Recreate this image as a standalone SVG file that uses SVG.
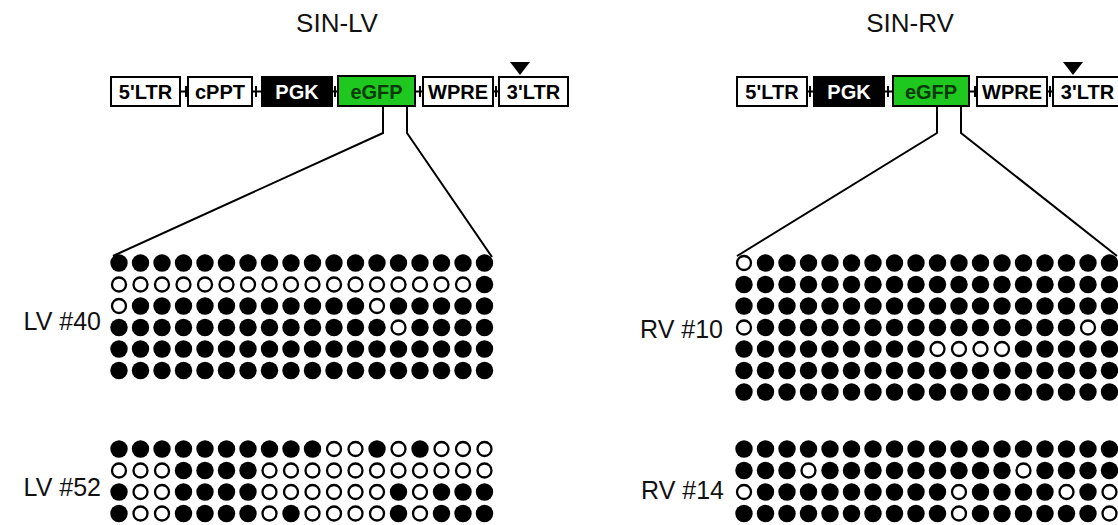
<svg xmlns="http://www.w3.org/2000/svg" xmlns:xlink="http://www.w3.org/1999/xlink" width="1118" height="525" viewBox="0 0 1118 525">
<style>
.title{font-family:"Liberation Sans",Arial,sans-serif;font-size:26px;fill:#111;text-anchor:middle}
.lab{font-family:"Liberation Sans",Arial,sans-serif;font-size:25px;fill:#111;text-anchor:end}
.box{fill:#fff;stroke:#000;stroke-width:2}
.blk{fill:#000;stroke:#000;stroke-width:2}
.grn{fill:#1fc81f;stroke:#000;stroke-width:2}
.bt{font-family:"Liberation Sans",Arial,sans-serif;font-size:20px;font-weight:bold;fill:#000;text-anchor:middle}
.wt{fill:#fff}
.gt{fill:#073a07}
.ln{fill:none;stroke:#000;stroke-width:2}
.tri{fill:#000}
</style>
<defs>
<circle id="f" r="8.7" fill="#000"/>
<circle id="o" r="7" fill="#fff" stroke="#000" stroke-width="2.3"/>
<g id="rowF">
<use href="#f" x="0"/><use href="#f" x="21.5"/><use href="#f" x="43"/><use href="#f" x="64.5"/><use href="#f" x="86"/><use href="#f" x="107.5"/><use href="#f" x="129"/><use href="#f" x="150.5"/><use href="#f" x="172"/><use href="#f" x="193.5"/><use href="#f" x="215"/><use href="#f" x="236.5"/><use href="#f" x="258"/><use href="#f" x="279.5"/><use href="#f" x="301"/><use href="#f" x="322.5"/><use href="#f" x="344"/><use href="#f" x="365.5"/>
</g>
</defs>
<rect width="1118" height="525" fill="#fff"/>

<text class="title" x="337" y="32">SIN-LV</text>
<text class="title" x="910" y="32">SIN-RV</text>

<!-- LV construct -->
<g id="lv-construct">
<g id="lv-junctions" class="ln">
<path d="M180 91.5H188M186 86V97"/>
<path d="M252 91.5H262M256 86V97"/>
<path d="M332 91.5H338M335 86V97"/>
<path d="M415 91.5H423M420 86V97"/>
<path d="M493 91.5H499M496 86V97"/>
</g>
<g id="lv-5ltr"><rect class="box" x="111" y="77" width="69" height="29"/><text class="bt" x="145.5" y="98.5">5'LTR</text></g>
<g id="lv-cppt"><rect class="box" x="188" y="77" width="64" height="29"/><text class="bt" x="220" y="98.5">cPPT</text></g>
<g id="lv-pgk"><rect class="blk" x="262" y="77" width="70" height="29"/><text class="bt wt" x="297" y="98.5">PGK</text></g>
<g id="lv-egfp"><rect class="grn" x="338" y="76" width="77" height="30"/><text class="bt gt" x="376.5" y="98.5">eGFP</text></g>
<g id="lv-wpre"><rect class="box" x="423" y="77" width="70" height="29"/><text class="bt" x="458" y="98.5">WPRE</text></g>
<g id="lv-3ltr"><rect class="box" x="499" y="77" width="69" height="29"/><text class="bt" x="533.5" y="98.5">3'LTR</text></g>
<path class="tri" d="M510 62H530L520 75Z"/>
</g>

<!-- RV construct -->
<g id="rv-construct">
<g id="rv-junctions" class="ln">
<path d="M807 91.5H814M810 86V97"/>
<path d="M884 91.5H893M888 86V97"/>
<path d="M969 91.5H977M975 86V97"/>
<path d="M1047 91.5H1053M1050 86V97"/>
</g>
<g id="rv-5ltr"><rect class="box" x="737" y="77" width="70" height="29"/><text class="bt" x="772" y="98.5">5'LTR</text></g>
<g id="rv-pgk"><rect class="blk" x="814" y="77" width="70" height="29"/><text class="bt wt" x="849" y="98.5">PGK</text></g>
<g id="rv-egfp"><rect class="grn" x="893" y="76" width="76" height="30"/><text class="bt gt" x="931" y="98.5">eGFP</text></g>
<g id="rv-wpre"><rect class="box" x="977" y="77" width="70" height="29"/><text class="bt" x="1012" y="98.5">WPRE</text></g>
<g id="rv-3ltr"><rect class="box" x="1053" y="77" width="69" height="29"/><text class="bt" x="1087.5" y="98.5">3'LTR</text></g>
<path class="tri" d="M1063 62H1083L1073 75Z"/>
</g>

<!-- connectors (zoom lines) -->
<g id="connectors" class="ln">
<path d="M383 106V133L113 256"/>
<path d="M407 106V133L492 257"/>
<path d="M937 106V133L737 256"/>
<path d="M961 106V133L1117 256"/>
</g>

<!-- labels -->
<text class="lab" x="101" y="330">LV #40</text>
<text class="lab" x="101" y="496">LV #52</text>
<text class="lab" x="723" y="338">RV #10</text>
<text class="lab" x="724" y="499">RV #14</text>

<!-- LV #40 -->
<g id="lv40" transform="translate(119,0)">
<use href="#rowF" y="263"/>
<g transform="translate(0,284.5)"><use href="#o" x="0"/><use href="#o" x="21.5"/><use href="#o" x="43"/><use href="#o" x="64.5"/><use href="#o" x="86"/><use href="#o" x="107.5"/><use href="#o" x="129"/><use href="#o" x="150.5"/><use href="#o" x="172"/><use href="#o" x="193.5"/><use href="#o" x="215"/><use href="#o" x="236.5"/><use href="#o" x="258"/><use href="#o" x="279.5"/><use href="#o" x="301"/><use href="#o" x="322.5"/><use href="#o" x="344"/><use href="#f" x="365.5"/></g>
<g transform="translate(0,306)"><use href="#o" x="0"/><use href="#f" x="21.5"/><use href="#f" x="43"/><use href="#f" x="64.5"/><use href="#f" x="86"/><use href="#f" x="107.5"/><use href="#f" x="129"/><use href="#f" x="150.5"/><use href="#f" x="172"/><use href="#f" x="193.5"/><use href="#f" x="215"/><use href="#f" x="236.5"/><use href="#o" x="258"/><use href="#f" x="279.5"/><use href="#f" x="301"/><use href="#f" x="322.5"/><use href="#f" x="344"/><use href="#f" x="365.5"/></g>
<g transform="translate(0,327.5)"><use href="#f" x="0"/><use href="#f" x="21.5"/><use href="#f" x="43"/><use href="#f" x="64.5"/><use href="#f" x="86"/><use href="#f" x="107.5"/><use href="#f" x="129"/><use href="#f" x="150.5"/><use href="#f" x="172"/><use href="#f" x="193.5"/><use href="#f" x="215"/><use href="#f" x="236.5"/><use href="#f" x="258"/><use href="#o" x="279.5"/><use href="#f" x="301"/><use href="#f" x="322.5"/><use href="#f" x="344"/><use href="#f" x="365.5"/></g>
<use href="#rowF" y="349"/>
<use href="#rowF" y="370.5"/>
</g>

<!-- LV #52 -->
<g id="lv52" transform="translate(119,0)">
<g transform="translate(0,449)"><use href="#f" x="0"/><use href="#f" x="21.5"/><use href="#f" x="43"/><use href="#f" x="64.5"/><use href="#f" x="86"/><use href="#f" x="107.5"/><use href="#f" x="129"/><use href="#f" x="150.5"/><use href="#f" x="172"/><use href="#f" x="193.5"/><use href="#o" x="215"/><use href="#o" x="236.5"/><use href="#f" x="258"/><use href="#o" x="279.5"/><use href="#f" x="301"/><use href="#o" x="322.5"/><use href="#o" x="344"/><use href="#o" x="365.5"/></g>
<g transform="translate(0,470.5)"><use href="#o" x="0"/><use href="#o" x="21.5"/><use href="#o" x="43"/><use href="#f" x="64.5"/><use href="#f" x="86"/><use href="#f" x="107.5"/><use href="#f" x="129"/><use href="#o" x="150.5"/><use href="#o" x="172"/><use href="#o" x="193.5"/><use href="#o" x="215"/><use href="#o" x="236.5"/><use href="#o" x="258"/><use href="#o" x="279.5"/><use href="#o" x="301"/><use href="#o" x="322.5"/><use href="#o" x="344"/><use href="#o" x="365.5"/></g>
<g transform="translate(0,492)"><use href="#f" x="0"/><use href="#o" x="21.5"/><use href="#o" x="43"/><use href="#f" x="64.5"/><use href="#f" x="86"/><use href="#f" x="107.5"/><use href="#f" x="129"/><use href="#o" x="150.5"/><use href="#o" x="172"/><use href="#o" x="193.5"/><use href="#o" x="215"/><use href="#o" x="236.5"/><use href="#o" x="258"/><use href="#f" x="279.5"/><use href="#o" x="301"/><use href="#f" x="322.5"/><use href="#f" x="344"/><use href="#f" x="365.5"/></g>
<g transform="translate(0,513.5)"><use href="#f" x="0"/><use href="#o" x="21.5"/><use href="#o" x="43"/><use href="#f" x="64.5"/><use href="#f" x="86"/><use href="#f" x="107.5"/><use href="#f" x="129"/><use href="#o" x="150.5"/><use href="#f" x="172"/><use href="#o" x="193.5"/><use href="#o" x="215"/><use href="#o" x="236.5"/><use href="#o" x="258"/><use href="#f" x="279.5"/><use href="#o" x="301"/><use href="#f" x="322.5"/><use href="#f" x="344"/><use href="#f" x="365.5"/></g>
</g>

<!-- RV #10 -->
<g id="rv10" transform="translate(744,0)">
<g transform="translate(0,263)"><use href="#o" x="0"/><use href="#f" x="21.5"/><use href="#f" x="43"/><use href="#f" x="64.5"/><use href="#f" x="86"/><use href="#f" x="107.5"/><use href="#f" x="129"/><use href="#f" x="150.5"/><use href="#f" x="172"/><use href="#f" x="193.5"/><use href="#f" x="215"/><use href="#f" x="236.5"/><use href="#f" x="258"/><use href="#f" x="279.5"/><use href="#f" x="301"/><use href="#f" x="322.5"/><use href="#f" x="344"/><use href="#f" x="365.5"/></g>
<use href="#rowF" y="284.5"/>
<use href="#rowF" y="306"/>
<g transform="translate(0,327.5)"><use href="#o" x="0"/><use href="#f" x="21.5"/><use href="#f" x="43"/><use href="#f" x="64.5"/><use href="#f" x="86"/><use href="#f" x="107.5"/><use href="#f" x="129"/><use href="#f" x="150.5"/><use href="#f" x="172"/><use href="#f" x="193.5"/><use href="#f" x="215"/><use href="#f" x="236.5"/><use href="#f" x="258"/><use href="#f" x="279.5"/><use href="#f" x="301"/><use href="#f" x="322.5"/><use href="#o" x="344"/><use href="#f" x="365.5"/></g>
<g transform="translate(0,349)"><use href="#f" x="0"/><use href="#f" x="21.5"/><use href="#f" x="43"/><use href="#f" x="64.5"/><use href="#f" x="86"/><use href="#f" x="107.5"/><use href="#f" x="129"/><use href="#f" x="150.5"/><use href="#f" x="172"/><use href="#o" x="193.5"/><use href="#o" x="215"/><use href="#o" x="236.5"/><use href="#o" x="258"/><use href="#f" x="279.5"/><use href="#f" x="301"/><use href="#f" x="322.5"/><use href="#f" x="344"/><use href="#f" x="365.5"/></g>
<use href="#rowF" y="370.5"/>
<use href="#rowF" y="392"/>
</g>

<!-- RV #14 -->
<g id="rv14" transform="translate(744,0)">
<use href="#rowF" y="449"/>
<g transform="translate(0,470.5)"><use href="#f" x="0"/><use href="#f" x="21.5"/><use href="#f" x="43"/><use href="#o" x="64.5"/><use href="#f" x="86"/><use href="#f" x="107.5"/><use href="#f" x="129"/><use href="#f" x="150.5"/><use href="#f" x="172"/><use href="#f" x="193.5"/><use href="#f" x="215"/><use href="#f" x="236.5"/><use href="#f" x="258"/><use href="#o" x="279.5"/><use href="#f" x="301"/><use href="#f" x="322.5"/><use href="#f" x="344"/><use href="#f" x="365.5"/></g>
<g transform="translate(0,492)"><use href="#o" x="0"/><use href="#f" x="21.5"/><use href="#f" x="43"/><use href="#f" x="64.5"/><use href="#f" x="86"/><use href="#f" x="107.5"/><use href="#f" x="129"/><use href="#f" x="150.5"/><use href="#f" x="172"/><use href="#f" x="193.5"/><use href="#o" x="215"/><use href="#f" x="236.5"/><use href="#f" x="258"/><use href="#f" x="279.5"/><use href="#f" x="301"/><use href="#o" x="322.5"/><use href="#f" x="344"/><use href="#o" x="365.5"/></g>
<g transform="translate(0,513.5)"><use href="#f" x="0"/><use href="#f" x="21.5"/><use href="#f" x="43"/><use href="#f" x="64.5"/><use href="#f" x="86"/><use href="#f" x="107.5"/><use href="#f" x="129"/><use href="#f" x="150.5"/><use href="#f" x="172"/><use href="#f" x="193.5"/><use href="#o" x="215"/><use href="#f" x="236.5"/><use href="#f" x="258"/><use href="#f" x="279.5"/><use href="#f" x="301"/><use href="#f" x="322.5"/><use href="#f" x="344"/><use href="#o" x="365.5"/></g>
</g>
</svg>
